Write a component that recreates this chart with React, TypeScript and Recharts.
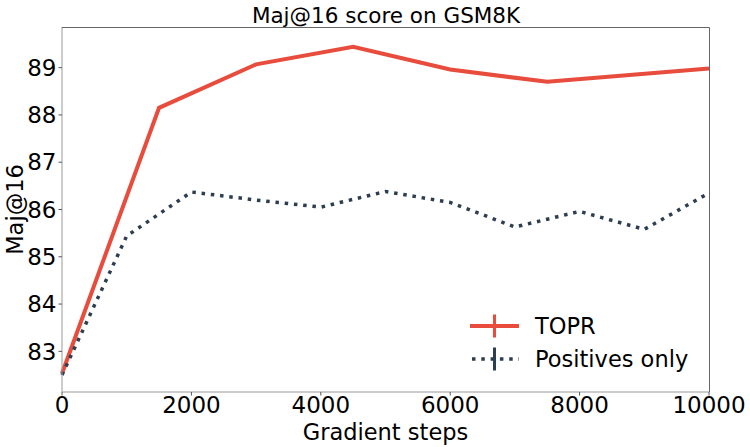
import { LineChart, Line, XAxis, YAxis } from 'recharts';

// values
const toprSteps = [0, 1500, 3000, 4500, 6000, 7500, 10000];
const toprScores = [82.53, 88.15, 89.07, 89.44, 88.96, 88.7, 88.98];

const posSteps = [0, 1000, 2000, 3000, 4000, 5000, 6000, 7000, 8000, 9000, 10000];
const posScores = [82.5, 85.44, 86.37, 86.2, 86.05, 86.38, 86.15, 85.63, 85.96, 85.58, 86.35];

const xTicks = [0, 2000, 4000, 6000, 8000, 10000];
const yTicks = [83, 84, 85, 86, 87, 88, 89];

const seriesNames = ['TOPR', 'Positives only'];

const RED = '#e74c3c';
const NAVY = '#2c3e50';
const FONT = '"DejaVu Sans", sans-serif';

// plot box (must agree with the chart margins below)
const LEFT = 62;
const RIGHT = 709;
const TOP = 27;
const BOTTOM = 392;

const toprData = toprSteps.map((step, i) => ({ step, score: toprScores[i] }));
const posData = posSteps.map((step, i) => ({ step, score: posScores[i] }));

// title, top/right spines and a matplotlib-like legend with errorbar handles
function Overlay() {
  const colors = [RED, NAVY];
  return (
    <svg width={750} height={447} style={{ position: 'absolute', left: 0, top: 0, pointerEvents: 'none' }}>
      <text x={386} y={23} textAnchor="middle" fontSize={21.5} fontFamily={FONT} fill="#000">
        Maj@16 score on GSM8K
      </text>
      <path d={`M${LEFT},${TOP + 0.5}H${RIGHT + 0.5}V${BOTTOM}`} fill="none" stroke="#666" strokeWidth={1} />
      {seriesNames.map((name, i) => {
        const y = 326 + i * 33;
        const dotted = i === 1;
        return (
          <g key={name}>
            <line
              x1={dotted ? 472 : 470}
              x2={519}
              y1={y}
              y2={y}
              stroke={colors[i]}
              strokeWidth={dotted ? 3.5 : 4}
              strokeDasharray={dotted ? '3.5 5.8' : undefined}
            />
            <line x1={494.5} x2={494.5} y1={y - 11.5} y2={y + 11.5} stroke={colors[i]} strokeWidth={3} />
            <text x={535} y={y + 8} fontSize={22.5} fontFamily={FONT} fill="#000">
              {name}
            </text>
          </g>
        );
      })}
    </svg>
  );
}

export default function App() {
  return (
    <div style={{ position: 'absolute', left: 0, top: 0, width: 750, height: 447, background: '#fff' }}>
      <LineChart width={750} height={447} margin={{ top: TOP, right: 750 - RIGHT, bottom: 0, left: 0 }}>
        <XAxis
          dataKey="step"
          type="number"
          domain={[0, 10000]}
          ticks={xTicks}
          allowDuplicatedCategory={false}
          height={447 - BOTTOM}
          tickSize={3.5}
          tickLine={{ stroke: '#555' }}
          axisLine={{ stroke: '#999' }}
          tick={{ fill: '#000', fontSize: 23, fontFamily: FONT }}
          tickMargin={1}
          label={(p: any) => {
            const vb = p.viewBox;
            return (
              <text x={vb.x + vb.width / 2} y={vb.y + 48} textAnchor="middle" fontSize={22.5} fontFamily={FONT} fill="#000">
                Gradient steps
              </text>
            );
          }}
        />
        <YAxis
          type="number"
          domain={[82.14, 89.86]}
          ticks={yTicks}
          width={LEFT}
          tickSize={3.5}
          tickLine={{ stroke: '#555' }}
          axisLine={{ stroke: '#999' }}
          tick={{ fill: '#000', fontSize: 23, fontFamily: FONT }}
          tickMargin={2}
          label={(p: any) => {
            const vb = p.viewBox;
            const cx = 23;
            const cy = vb.y + vb.height / 2;
            return (
              <text x={cx} y={cy} transform={`rotate(-90, ${cx}, ${cy})`} textAnchor="middle" fontSize={22.5} fontFamily={FONT} fill="#000">
                Maj@16
              </text>
            );
          }}
        />
        <Line
          data={toprData}
          dataKey="score"
          name={seriesNames[0]}
          type="linear"
          stroke={RED}
          strokeWidth={4}
          dot={false}
          activeDot={false}
          isAnimationActive={false}
        />
        <Line
          data={posData}
          dataKey="score"
          name={seriesNames[1]}
          type="linear"
          stroke={NAVY}
          strokeWidth={3.5}
          strokeDasharray="3.5 5.8"
          dot={false}
          activeDot={false}
          isAnimationActive={false}
        />
      </LineChart>
      <Overlay />
    </div>
  );
}
